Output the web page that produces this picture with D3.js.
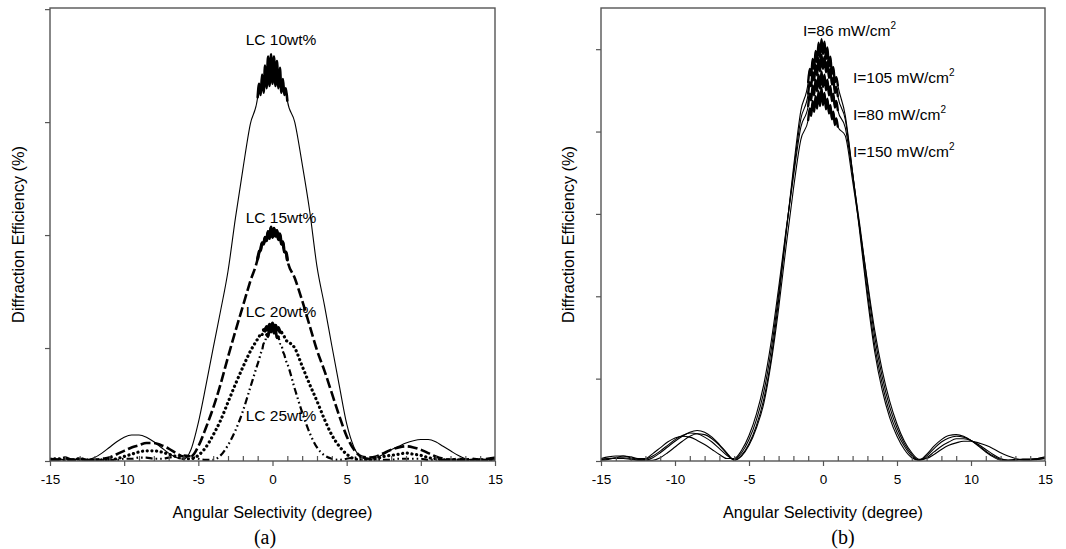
<!DOCTYPE html>
<html>
<head>
<meta charset="utf-8">
<script src="https://cdn.jsdelivr.net/npm/d3@7"></script>
<style>
  html, body { margin: 0; padding: 0; background: #fff; }
  svg { display: block; }
  text { font-family: "Liberation Sans", Arial, sans-serif; fill: #000; }
</style>
</head>
<body>
<svg id="chart" width="1066" height="549"></svg>
<script>
// ---- shared x positions (degrees) ----
const angles = [
  -15,-14.5,-14,-13.5,-13,-12.5,-12,-11.5,-11,-10.5,-10,-9.5,-9,-8.5,-8,-7.5,-7,-6.5,-6,-5.5,-5,-4.5,-4,-3.5,-3,-2.5,-2,-1.5,
  -1,-0.9,-0.8,-0.7,-0.6,-0.5,-0.4,-0.3,-0.2,-0.1,0,0.1,0.2,0.3,0.4,0.5,0.6,0.7,0.8,0.9,1,
  1.5,2,2.5,3,3.5,4,4.5,5,5.5,6,6.5,7,7.5,8,8.5,9,9.5,10,10.5,11,11.5,12,12.5,13,13.5,14,14.5,15
];

// ---- panel (a) series ----
const lc10 = [
  0.1,0.2,0.1,0.2,0.1,0.1,0.3,0.7,1.2,1.7,2.1,2.3,2.3,2.1,1.7,1.2,0.7,0.3,0.15,1.0,3.4,6.6,10,13.3,16.8,21.5,25.8,29.8,
  32.2,33.4,32.4,34.2,32.6,35.0,33.0,35.8,33.2,36.0,33.4,35.8,33.2,35.4,33.0,34.8,32.6,33.8,32.4,33.0,31.9,
  30,26.3,22.2,17.2,13.8,10.2,6.7,3.3,1.2,0.3,0.1,0.3,0.6,1.0,1.3,1.6,1.8,1.9,1.9,1.7,1.3,0.9,0.5,0.2,0.1,0.2,0.1,0.2
];
const lc15 = [
  0.2,0.1,0.3,0.1,0.2,0.1,0.1,0.2,0.3,0.6,0.9,1.2,1.4,1.6,1.6,1.4,1.1,0.7,0.4,0.4,1.3,2.9,4.7,6.8,9.2,11.5,13.7,15.9,
  17.9,18.5,18.7,19.3,19.2,19.8,19.5,20.3,19.7,20.7,19.8,20.6,19.9,20.4,19.6,20.1,19.2,19.4,18.5,18.5,17.8,
  16.2,14.2,12.0,9.8,8.0,6.0,4.0,2.2,1.0,0.4,0.3,0.4,0.7,1.0,1.2,1.3,1.2,1.0,0.7,0.4,0.2,0.1,0.2,0.1,0.2,0.1,0.2,0.3
];
const lc20 = [
  0.1,0.2,0.1,0.1,0.2,0.1,0.1,0.1,0.1,0.2,0.4,0.6,0.8,0.9,0.9,0.8,0.6,0.4,0.2,0.2,0.5,1.2,2.3,3.6,5.2,6.8,8.3,9.7,
  10.8,11.0,11.3,11.2,11.6,11.5,11.9,11.6,12.1,11.8,12.2,11.8,12.0,11.6,11.8,11.4,11.4,11.1,11.0,10.7,10.6,
  10.0,8.4,6.8,5.3,3.7,2.3,1.3,0.6,0.2,0.1,0.1,0.2,0.4,0.5,0.6,0.7,0.6,0.5,0.3,0.2,0.1,0.1,0.1,0.1,0.1,0.1,0.1,0.1
];
const lc25 = [
  0.1,0.1,0.2,0.1,0.1,0.1,0.1,0.1,0.1,0.1,0.2,0.2,0.3,0.3,0.2,0.2,0.3,0.4,0.5,0.4,0.2,0.1,0.1,0.5,1.4,2.7,4.4,6.5,
  8.6,9.0,9.5,9.8,10.4,10.5,11.2,11.0,11.8,11.4,12.0,11.3,11.6,10.9,11.0,10.4,10.3,9.7,9.4,8.9,8.6,
  6.4,4.3,2.5,1.2,0.5,0.2,0.1,0.2,0.3,0.3,0.2,0.1,0.1,0.1,0.2,0.2,0.2,0.2,0.1,0.1,0.1,0.1,0.1,0.1,0.1,0.1,0.1,0.1
];

// ---- panel (b) series ----
const i86 = [
  0.3,0.5,0.6,0.6,0.4,0.2,0.1,0.4,1.0,1.7,2.4,3.0,3.5,3.7,3.5,2.9,2.0,1.0,0.1,0.7,2.1,4.3,7.5,12.5,19.5,27.5,35.5,42.5,
  46.0,47.6,46.8,48.8,47.6,49.8,48.4,50.8,49.0,51.2,49.4,50.9,48.8,50.2,47.9,49.1,47.0,47.8,46.0,46.6,45.6,
  42,35,27.5,19.8,13.2,8.6,5.3,3.0,1.4,0.4,0.1,0.8,1.8,2.6,3.1,3.2,3.0,2.5,1.8,1.1,0.5,0.1,0.1,0.2,0.2,0.2,0.3,0.5
];
const i105 = [
  0.2,0.3,0.4,0.4,0.3,0.1,0.2,0.6,1.2,1.9,2.6,3.1,3.4,3.3,2.9,2.3,1.5,0.7,0.2,1.0,2.6,5.0,8.4,13.5,20.2,27.8,35.0,41.5,
  44.6,46.0,45.5,47.2,46.2,48.1,46.8,48.9,47.3,49.3,47.6,49.1,47.2,48.5,46.5,47.6,45.7,46.5,44.7,45.4,44.3,
  41.5,35,28,20.5,14,9.4,5.9,3.5,1.8,0.6,0.1,0.6,1.5,2.3,2.8,3.0,2.9,2.5,1.9,1.2,0.6,0.2,0.1,0.1,0.2,0.2,0.3,0.4
];
const i80 = [
  0.1,0.2,0.4,0.6,0.5,0.3,0.3,0.9,1.6,2.3,2.8,3.0,2.9,2.5,2.0,1.4,0.8,0.3,0.3,1.3,3.1,5.7,9.3,14.5,21.0,28.0,34.5,40.5,
  43.1,44.6,43.8,45.6,44.4,46.3,44.9,46.9,45.2,47.3,45.4,46.9,45.0,46.3,44.4,45.5,43.7,44.6,42.9,43.7,42.6,
  40.5,34.8,28.5,21.5,15.0,10.2,6.6,4.0,2.1,0.8,0.1,0.4,1.1,1.8,2.3,2.7,2.7,2.5,2.0,1.4,0.8,0.3,0.1,0.1,0.2,0.2,0.2,0.3
];
const i150 = [
  0.2,0.3,0.3,0.3,0.2,0.1,0.1,0.1,0.4,1.0,1.7,2.4,3.0,3.3,3.2,2.7,1.9,0.9,0.1,0.6,1.9,4.0,7.0,12.0,18.5,26.0,33.0,39.0,
  41.4,42.8,41.9,43.7,42.4,44.3,42.8,44.9,43.1,45.3,43.2,44.7,42.7,44.0,42.2,43.2,41.5,42.4,40.8,41.6,40.6,
  39.5,34.0,28.0,21.8,15.8,11.0,7.3,4.5,2.4,1.0,0.2,0.3,0.8,1.4,1.9,2.2,2.4,2.4,2.2,1.9,1.5,1.0,0.6,0.3,0.1,0.1,0.2,0.3
];

// ---- ticks and labels ----
const xMajorTicks = [-15, -10, -5, 0, 5, 10, 15];
const xMinorTicks = d3.range(-14, 15).filter(d => d % 5 !== 0);
const yTicksA = [0, 10, 20, 30, 40];
const yTicksB = [0, 10, 20, 30, 40, 50];
const xTitle = "Angular Selectivity (degree)";
const yTitle = "Diffraction Efficiency (%)";
const labelsA = ["LC 10wt%", "LC 15wt%", "LC 20wt%", "LC 25wt%"];
const labelsB = ["I=86 mW/cm", "I=105 mW/cm", "I=80 mW/cm", "I=150 mW/cm"];

// ---- drawing ----
const svg = d3.select("#chart");
const frameColor = "#555";

function panel(cfg) {
  const x = d3.scaleLinear().domain([-15, 15]).range([cfg.left, cfg.right]);
  const y = d3.scaleLinear().domain(cfg.yDomain).range([cfg.bottom, cfg.top]);
  const g = svg.append("g");

  const clipId = "clip" + cfg.id;
  svg.append("clipPath").attr("id", clipId).append("rect")
    .attr("x", cfg.left).attr("y", cfg.top - 2)
    .attr("width", cfg.right - cfg.left).attr("height", cfg.bottom - cfg.top + 2);

  const line = d3.line()
    .x(d => x(d[0]))
    .y(d => y(d[1]))
    .curve(d3.curveMonotoneX);
  const sg = g.append("g").attr("clip-path", `url(#${clipId})`);
  cfg.series.forEach(s => {
    const pts = s.values.map((v, i) => [angles[i], v]);
    sg.append("path")
      .datum(pts)
      .attr("d", line)
      .attr("fill", "none")
      .attr("stroke", "#000")
      .attr("stroke-width", s.width)
      .attr("stroke-dasharray", s.dash || null)
      .attr("stroke-linecap", s.cap || "butt")
      .attr("stroke-linejoin", "round");
    // noisy peak region drawn as a dense solid band
    const core = pts.filter(p => p[0] >= s.coreFrom && p[0] <= s.coreTo);
    sg.append("path")
      .datum(core)
      .attr("d", line)
      .attr("fill", "none")
      .attr("stroke", "#000")
      .attr("stroke-width", s.coreWidth)
      .attr("stroke-linejoin", "round")
      .attr("stroke-linecap", "round");
  });

  const xMajor = g.append("g").attr("transform", `translate(0,${cfg.bottom})`)
    .call(d3.axisBottom(x).tickValues(xMajorTicks).tickSizeInner(5).tickSizeOuter(0)
      .tickPadding(8).tickFormat(d => String(d)));
  xMajor.select(".domain").remove();
  xMajor.selectAll("line").attr("stroke", frameColor).attr("stroke-width", 1.2);
  xMajor.selectAll("text").attr("font-size", 13.5).attr("font-family", '"Liberation Sans", Arial, sans-serif').attr("fill", "#111");

  const xMinor = g.append("g").attr("transform", `translate(0,${cfg.bottom})`)
    .call(d3.axisBottom(x).tickValues(xMinorTicks).tickSizeInner(-5).tickSizeOuter(0).tickFormat(""));
  xMinor.select(".domain").remove();
  xMinor.selectAll("line").attr("stroke", frameColor).attr("stroke-width", 1.2);

  const yAx = g.append("g").attr("transform", `translate(${cfg.left},0)`)
    .call(d3.axisLeft(y).tickValues(cfg.yTicks).tickSizeInner(5).tickSizeOuter(0).tickFormat(""));
  yAx.select(".domain").remove();
  yAx.selectAll("line").attr("stroke", frameColor).attr("stroke-width", 1.2);

  g.append("rect")
    .attr("x", cfg.left).attr("y", cfg.top)
    .attr("width", cfg.right - cfg.left).attr("height", cfg.bottom - cfg.top)
    .attr("fill", "none").attr("stroke", frameColor).attr("stroke-width", 1.4);

  g.append("text")
    .attr("x", (cfg.left + cfg.right) / 2).attr("y", 518)
    .attr("text-anchor", "middle").attr("font-size", 16.3)
    .text(xTitle);
  g.append("text")
    .attr("transform", `translate(${cfg.yTitleX},${(cfg.top + cfg.bottom) / 2}) rotate(-90)`)
    .attr("text-anchor", "middle").attr("dominant-baseline", "central")
    .attr("font-size", 16.3)
    .text(yTitle);
  g.append("text")
    .attr("x", cfg.captionX).attr("y", 544)
    .attr("text-anchor", "middle")
    .attr("font-size", 20)
    .style("font-family", '"Liberation Serif", "Times New Roman", serif')
    .text(cfg.caption);
  return { g, x, y };
}

// Panel (a)
const pa = panel({
  id: "a", left: 50, right: 495, top: 8, bottom: 461,
  yDomain: [0, 40.1], yTicks: yTicksA, yTitleX: 18, captionX: 265, caption: "(a)",
  series: [
    { values: lc10, width: 1.1, coreFrom: -1, coreTo: 1, coreWidth: 2.6 },
    { values: lc15, width: 2.6, dash: "10,3.5", coreFrom: -1, coreTo: 1, coreWidth: 3.2 },
    { values: lc20, width: 3.2, dash: "0.1,4.6", cap: "round", coreFrom: -0.6, coreTo: 0.6, coreWidth: 3.2 },
    { values: lc25, width: 2.2, dash: "7,3,1.6,3,1.6,3", coreFrom: -0.4, coreTo: 0.4, coreWidth: 2.8 }
  ]
});
const posA = [[281, 45], [281, 223], [281, 317], [281, 421]];
labelsA.forEach((t, i) => {
  pa.g.append("text").attr("x", posA[i][0]).attr("y", posA[i][1])
    .attr("text-anchor", "middle").attr("font-size", 15.5).text(t);
});

// Panel (b)
const pb = panel({
  id: "b", left: 601, right: 1045, top: 8, bottom: 461,
  yDomain: [0, 55], yTicks: yTicksB, yTitleX: 568, captionX: 843, caption: "(b)",
  series: [
    { values: i86, width: 1.1, coreFrom: -1, coreTo: 1, coreWidth: 2.4 },
    { values: i105, width: 1.1, coreFrom: -1, coreTo: 1, coreWidth: 2.4 },
    { values: i80, width: 1.1, coreFrom: -1, coreTo: 1, coreWidth: 2.4 },
    { values: i150, width: 1.1, coreFrom: -1, coreTo: 1, coreWidth: 2.4 }
  ]
});
const posB = [[803, 36], [853, 83], [853, 120], [853, 157]];
labelsB.forEach((t, i) => {
  const tx = pb.g.append("text").attr("x", posB[i][0]).attr("y", posB[i][1])
    .attr("font-size", 15.5);
  tx.append("tspan").text(t);
  tx.append("tspan").attr("font-size", 10).attr("dy", -7).text("2");
});
</script>
</body>
</html>
